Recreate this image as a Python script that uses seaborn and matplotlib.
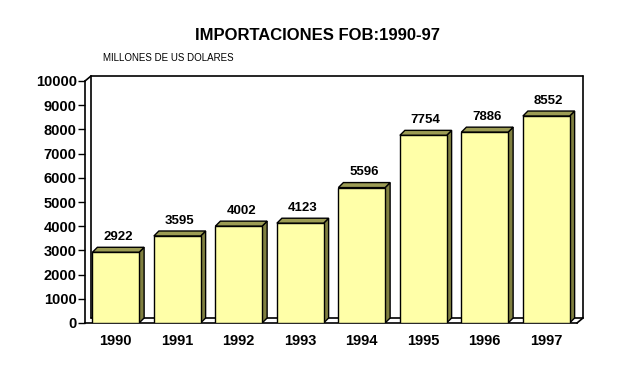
import matplotlib
matplotlib.use("Agg")
import matplotlib.pyplot as plt
import matplotlib.transforms as mtransforms
from matplotlib.patches import Polygon
from matplotlib.lines import Line2D
import seaborn as sns
import pandas as pd

years = ["1990", "1991", "1992", "1993", "1994", "1995", "1996", "1997"]
values = [2922, 3595, 4002, 4123, 5596, 7754, 7886, 8552]
yticks = list(range(0, 10001, 1000))
title = "IMPORTACIONES FOB:1990-97"
subtitle = "MILLONES DE US DOLARES"

sns.set_theme(style="white")
plt.rcParams["font.family"] = ["Liberation Sans", "DejaVu Sans"]

W, H = 617, 372
fig = plt.figure(figsize=(W / 100, H / 100), dpi=100)
L, R, B, T = 85, 577, 323, 81
ax = fig.add_axes([L / W, (H - B) / H, (R - L) / W, (B - T) / H])

df = pd.DataFrame({"year": years, "value": values})
sns.barplot(data=df, x="year", y="value", color="#FFFFA8", saturation=1,
            width=0.76, edgecolor="black", linewidth=1, ax=ax, zorder=3)
ax.set_xlim(-0.5, 7.5)
ax.set_ylim(0, 10000)
ax.set_xlabel("")
ax.set_ylabel("")
ax.set_yticks(yticks)
ax.set_yticklabels([str(v) for v in yticks])
for s in ["top", "right"]:
    ax.spines[s].set_visible(False)
for s in ["left", "bottom"]:
    ax.spines[s].set_color("black")
    ax.spines[s].set_linewidth(1.2)
ax.tick_params(axis="y", left=True, length=5, width=1, color="black", pad=1,
               labelsize=10.5)
ax.tick_params(axis="x", bottom=False, pad=2, labelsize=10.5)
for lbl in ax.get_xticklabels() + ax.get_yticklabels():
    lbl.set_fontweight("bold")
    lbl.set_color("black")

# 3D back wall
wall = mtransforms.offset_copy(ax.transData, fig=fig, x=6, y=5, units="dots")
kw = dict(color="black", lw=1.2, clip_on=False, zorder=1)
ax.add_line(Line2D([-0.5, -0.5], [0, 10000], transform=wall, **kw))
ax.add_line(Line2D([-0.5, 7.5], [10000, 10000], transform=wall, **kw))
ax.add_line(Line2D([-0.5, 7.5], [0, 0], transform=wall, **kw))
ax.add_line(Line2D([7.5, 7.5], [0, 10000], transform=wall, **kw))
# diagonals
px_x = (R - L) / 8.0
px_y = (B - T) / 10000.0
dxw, dyw = 6 / px_x, 5 / px_y
ax.add_line(Line2D([-0.5, -0.5 + dxw], [10000, 10000 + dyw], **kw))
ax.add_line(Line2D([7.5, 7.5 + dxw], [0, dyw], **kw))

# 3D bar sides and tops
dx, dy = 5 / px_x, 5 / px_y
for p in ax.patches[:len(values)]:
    x0 = p.get_x()
    x1 = x0 + p.get_width()
    h = p.get_height()
    side = Polygon([(x1, 0), (x1, h), (x1 + dx, h + dy), (x1 + dx, dy)],
                   closed=True, facecolor="#808040", edgecolor="black",
                   lw=1, zorder=2.5)
    top = Polygon([(x0, h), (x1, h), (x1 + dx, h + dy), (x0 + dx, h + dy)],
                  closed=True, facecolor="#9C9C54", edgecolor="black",
                  lw=1, zorder=2.5)
    ax.add_patch(side)
    ax.add_patch(top)

for i, v in enumerate(values):
    ax.annotate(str(v), (i + dx / 2, v + dy), xytext=(0, 3),
                textcoords="offset points", ha="center", va="bottom",
                fontsize=9.5, fontweight="bold", color="black")

fig.text(318 / W, 1 - 35 / H, title, ha="center", va="center",
         fontsize=12, fontweight="bold", color="black")
fig.text(103 / W, 1 - 58 / H, subtitle, ha="left", va="center",
         fontsize=7, color="black")

fig.savefig("out.png", dpi=100, facecolor="white")
